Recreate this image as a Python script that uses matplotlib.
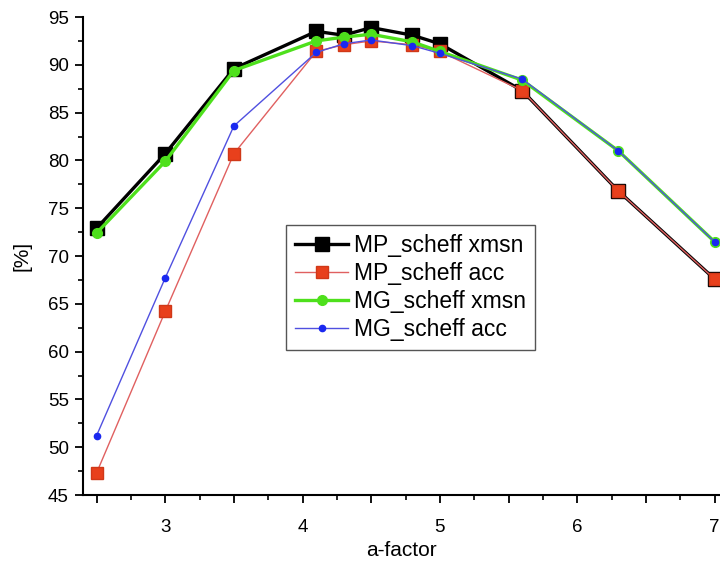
import matplotlib.pyplot as plt
import numpy as np
from matplotlib.ticker import MultipleLocator

plt.rcParams['font.family'] = ['Liberation Sans', 'DejaVu Sans']

a_factor = [2.5, 3.0, 3.5, 4.1, 4.3, 4.5, 4.8, 5.0, 5.6, 6.3, 7.0]

mp_xmsn = [72.9, 80.7, 89.6, 93.5, 93.1, 93.9, 93.1, 92.2, 87.3, 76.8, 67.6]
mp_acc = [47.3, 64.2, 80.7, 91.4, 92.1, 92.5, 92.1, 91.4, 87.3, 76.8, 67.6]
mg_xmsn = [72.4, 79.9, 89.4, 92.5, 92.9, 93.2, 92.4, 91.4, 88.4, 81.0, 71.5]
mg_acc = [51.2, 67.7, 83.6, 91.3, 92.2, 92.6, 92.0, 91.2, 88.5, 81.0, 71.5]

fig = plt.figure(figsize=(7.2, 5.68), dpi=100)
ax = fig.add_axes([0.115, 0.1285, 0.885, 0.8415])

ax.plot(a_factor, mp_xmsn, color='black', lw=2.4, marker='s', ms=10,
        label='MP_scheff xmsn', clip_on=False, zorder=3)
ax.plot(a_factor, mp_acc, color='#e06060', lw=1.0, marker='s', ms=8,
        mfc='#e8401c', mec='#d03818', label='MP_scheff acc', clip_on=False, zorder=4)
ax.plot(a_factor, mg_xmsn, color='#4ee01c', lw=2.4, marker='o', ms=7,
        label='MG_scheff xmsn', clip_on=False, zorder=5)
ax.plot(a_factor, mg_acc, color='#5050e0', lw=1.0, marker='o', ms=4.5,
        mfc='#1a28f0', mec='#1a28f0', label='MG_scheff acc', clip_on=False, zorder=6)

ax.set_xlim(2.4, 7.04)
ax.set_ylim(45, 95)

# major ticks every 0.5, labels only on whole numbers
ax.xaxis.set_major_locator(MultipleLocator(0.5))
ax.xaxis.set_minor_locator(MultipleLocator(0.25))
ax.set_xticklabels(['' if abs(t - round(t)) > 1e-6 else str(int(round(t)))
                    for t in ax.get_xticks()])
ax.yaxis.set_major_locator(MultipleLocator(5))
ax.yaxis.set_minor_locator(MultipleLocator(2.5))

ax.tick_params(which='major', direction='out', length=6, width=1.3, labelsize=13.5, pad=11)
ax.tick_params(axis='y', which='major', pad=4)
ax.tick_params(which='minor', direction='out', length=3.5, width=1.2)

for s in ['top', 'right']:
    ax.spines[s].set_visible(False)
for s in ['left', 'bottom']:
    ax.spines[s].set_linewidth(1.5)

ax.set_xlabel('a-factor', fontsize=15, labelpad=4)
ax.set_ylabel('[%]', fontsize=15, labelpad=12)

leg = ax.legend(loc='upper left', bbox_to_anchor=(0.319, 0.565), borderaxespad=0,
                fontsize=16.5, fancybox=False, framealpha=1, edgecolor='#555555',
                handlelength=2.3, handletextpad=0.25, labelspacing=0.22, borderpad=0.4)
leg.get_frame().set_linewidth(1.0)

fig.savefig('out.png', dpi=100)
